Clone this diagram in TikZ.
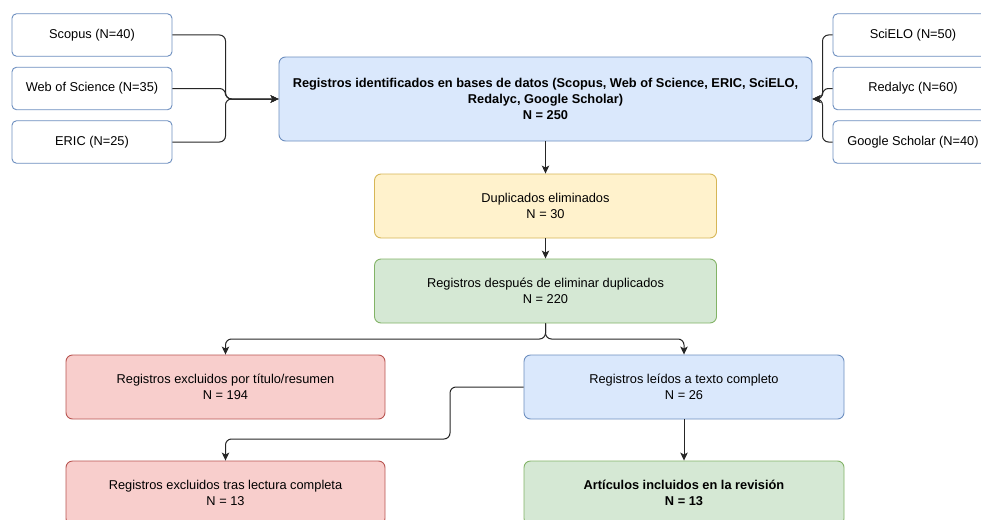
\documentclass[tikz,border=0pt]{standalone}
\usepackage{fontspec}
\setmainfont{Liberation Sans}
\usetikzlibrary{arrows.meta}
\definecolor{bluefill}{HTML}{DAE8FC}
\definecolor{bluedraw}{HTML}{6C8EBF}
\definecolor{yelfill}{HTML}{FFF2CC}
\definecolor{yeldraw}{HTML}{D6B656}
\definecolor{grnfill}{HTML}{D5E8D4}
\definecolor{grndraw}{HTML}{82B366}
\definecolor{redfill}{HTML}{F8CECC}
\definecolor{reddraw}{HTML}{B85450}
\tikzset{
  base/.style={rectangle, line width=0.9pt, align=center, inner sep=0pt,
    font=\fontsize{12.8}{16}\selectfont},
  src/.style={base, draw=bluedraw, fill=white, minimum width=160pt, minimum height=42.5pt, rounded corners=4.5pt},
  bluebox/.style={base, draw=bluedraw, fill=bluefill, rounded corners=6.5pt},
  yelbox/.style={base, draw=yeldraw, fill=yelfill, rounded corners=6.5pt},
  grnbox/.style={base, draw=grndraw, fill=grnfill, rounded corners=6.5pt},
  redbox/.style={base, draw=reddraw, fill=redfill, rounded corners=6.5pt},
  conn/.style={draw=black!85, line width=1pt, rounded corners=6pt,
    -{Stealth[length=8pt,width=7.5pt,inset=2pt]}}
}
\begin{document}
\begin{tikzpicture}[x=1pt,y=-1pt]
\useasboundingbox (0,0) rectangle (981,519);
% source boxes
\node[src] (scopus) at (92,35) {Scopus (N=40)};
\node[src] (wos) at (92,88.5) {Web of Science (N=35)};
\node[src] (eric) at (92,142) {ERIC (N=25)};
\node[src] (scielo) at (913,35) {SciELO (N=50)};
\node[src] (redalyc) at (913,88.5) {Redalyc (N=60)};
\node[src] (google) at (913,142) {Google Scholar (N=40)};
% main flow
\node[bluebox, minimum width=533pt, minimum height=84pt, font=\fontsize{12.8}{16}\selectfont\bfseries] (main) at (545.5,99)
  {Registros identificados en bases de datos (Scopus, Web of Science, ERIC, SciELO,\\Redalyc, Google Scholar)\\N = 250};
\node[yelbox, minimum width=342pt, minimum height=64pt] (dup) at (545.5,206) {Duplicados eliminados\\N = 30};
\node[grnbox, minimum width=342pt, minimum height=64pt] (desp) at (545.5,291) {Registros después de eliminar duplicados\\N = 220};
\node[redbox, minimum width=319pt, minimum height=64pt] (exc1) at (225.5,387) {Registros excluidos por título/resumen\\N = 194};
\node[bluebox, minimum width=320pt, minimum height=64pt] (leidos) at (684,387) {Registros leídos a texto completo\\N = 26};
\node[redbox, minimum width=319pt, minimum height=64pt] (exc2) at (225.5,493) {Registros excluidos tras lectura completa\\N = 13};
\node[grnbox, minimum width=320pt, minimum height=64pt, font=\fontsize{12.8}{16}\selectfont\bfseries] (art) at (684,493) {Artículos incluidos en la revisión\\N = 13};
% junction coordinates
\coordinate (lj) at (225.5,99);
\coordinate (rj) at (822.5,99);
\coordinate (sp) at (545.5,339);
\coordinate (bend) at (450,439);
% connectors
\draw[conn] (scopus.east) -| (lj) -- (main.west);
\draw[conn] (wos.east) -| (lj) -- (main.west);
\draw[conn] (eric.east) -| (lj) -- (main.west);
\draw[conn] (scielo.west) -| (rj) -- (main.east);
\draw[conn] (redalyc.west) -| (rj) -- (main.east);
\draw[conn] (google.west) -| (rj) -- (main.east);
\draw[conn] (main.south) -- (dup.north);
\draw[conn] (dup.south) -- (desp.north);
\draw[conn] (desp.south) -- (sp) -| (exc1.north);
\draw[conn] (desp.south) -- (sp) -| (leidos.north);
\draw[conn] (leidos.west) -| (bend) -| (exc2.north);
\draw[conn] (leidos.south) -- (art.north);
\end{tikzpicture}
\end{document}
